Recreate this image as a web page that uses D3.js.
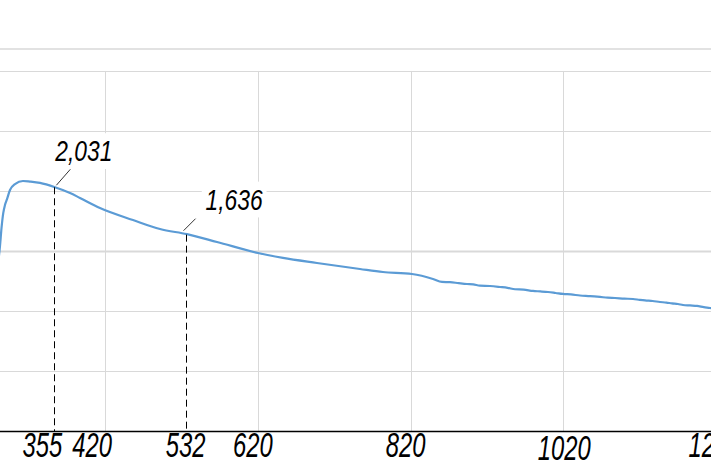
<!DOCTYPE html>
<html><head><meta charset="utf-8">
<script src="https://cdn.jsdelivr.net/npm/d3@7"></script>
<style>
html,body{margin:0;padding:0;background:#fff;}
svg{display:block;}
.lbl{font-family:"Liberation Sans",Arial,sans-serif;font-style:italic;fill:#000;}
</style></head>
<body><svg id="c" width="711" height="474"></svg>
<script>
// ---- data ----
const xValues = [280.0,282.5,284.5,286.8,289.0,291.3,295.6,302.1,312.6,321.8,334.9,354.5,374.2,387.2,413.4,456.6,492.0,527.3,566.6,620.3,653.0,697.5,753.8,783.9,821.9,849.4,861.2,871.7,883.0,893.9,902.0,910.9,924.0,937.2,947.0,956.8,968.0,980.4,990.0,1000.0,1010.0,1019.6,1030.0,1041.9,1055.0,1068.1,1078.0,1087.7,1100.0,1111.3,1120.0,1127.0,1137.0,1146.6,1155.0,1162.3,1170.0,1176.8,1186.0,1195.1,1204.0,1212.1,1216.0];
const yValues = [1.400,1.542,1.692,1.817,1.883,1.925,2.008,2.058,2.083,2.078,2.067,2.031,1.983,1.942,1.858,1.758,1.683,1.640,1.575,1.483,1.442,1.400,1.350,1.325,1.308,1.267,1.242,1.240,1.232,1.225,1.222,1.211,1.208,1.200,1.193,1.181,1.178,1.167,1.163,1.158,1.150,1.142,1.138,1.129,1.124,1.117,1.111,1.108,1.103,1.100,1.093,1.088,1.083,1.075,1.070,1.063,1.058,1.050,1.046,1.042,1.032,1.025,1.021];
const xGridValues = [420, 620, 820, 1020, 1220];
const yGridValues = [0.5, 1.0, 1.5, 2.0, 2.5, 3.0];
const xTickLabels = [355, 420, 532, 620, 820, 1020, 1220];
const markerX = [355, 532];
const markerLabels = ["2,031", "1,636"];
const markerY = [2.031, 1.636];

// ---- layout ----
const W = 711, H = 474;
const x = d3.scaleLinear().domain([282.5, 1213.4]).range([0, W]);
const y = d3.scaleLinear().domain([0, 3.183]).range([431, 49]);
const svg = d3.select("#c");

// grid
svg.append("line").attr("x1",0).attr("x2",W).attr("y1",y(3.183)).attr("y2",y(3.183))
  .attr("stroke","#d9d9d9").attr("stroke-width",1.5);
svg.selectAll("line.hg").data(yGridValues).enter().append("line").attr("class","hg")
  .attr("x1",0).attr("x2",W)
  .attr("y1",d=>Math.round(y(d))+0.5).attr("y2",d=>Math.round(y(d))+0.5)
  .attr("stroke","#d9d9d9").attr("stroke-width",d=>d===1.5?2:1);
svg.selectAll("line.vg").data(xGridValues).enter().append("line").attr("class","vg")
  .attr("x1",d=>Math.round(x(d))+0.5).attr("x2",d=>Math.round(x(d))+0.5)
  .attr("y1",y(3.0)).attr("y2",y(0))
  .attr("stroke","#d9d9d9").attr("stroke-width",1);

// axis line
svg.append("line").attr("x1",0).attr("x2",W).attr("y1",431.5).attr("y2",431.5)
  .attr("stroke","#000").attr("stroke-width",1.5);

// tick labels (condensed italic)
const nudge = {355:-13, 420:-13, 1020:1, 1220:-1};
const lowered = {1020:3};
svg.selectAll("g.tl").data(xTickLabels).enter().append("g").attr("class","tl")
  .attr("transform",d=>`translate(${x(d)+(nudge[d]!==undefined?nudge[d]:-5)},${457+(lowered[d]||0)}) scale(0.68,1)`)
  .append("text").attr("class","lbl")
  .attr("text-anchor","middle").attr("font-size",35)
  .text(d=>d);

// curve
const pts = xValues.map((v,i)=>[v,yValues[i]]);
svg.append("defs").append("clipPath").attr("id","clip").append("rect")
  .attr("x",0).attr("y",0).attr("width",W).attr("height",431);
svg.append("path").datum(pts).attr("clip-path","url(#clip)")
  .attr("fill","none").attr("stroke","#5b9bd5").attr("stroke-width",2.2)
  .attr("stroke-linejoin","round")
  .attr("d", d3.line().x(d=>x(d[0])).y(d=>y(d[1])).curve(d3.curveMonotoneX));

// markers
const markerLayout = [
  {px:-1, lead:[[2,-2],[16,-18]], tx:1, ty:-26},
  {px:-5, lead:[[-2,-4],[10,-16]], tx:20, ty:-25}
];
markerX.forEach((mx,i)=>{
  const L = markerLayout[i];
  const cx = x(mx)+L.px, cy = y(markerY[i]);
  svg.append("line").attr("x1",Math.round(cx)+0.5).attr("x2",Math.round(cx)+0.5)
    .attr("y1",cy).attr("y2",431)
    .attr("stroke","#000").attr("stroke-width",1).attr("stroke-dasharray","7,4");
  svg.append("line").attr("x1",cx+L.lead[0][0]).attr("y1",cy+L.lead[0][1])
    .attr("x2",cx+L.lead[1][0]).attr("y2",cy+L.lead[1][1])
    .attr("stroke","#000").attr("stroke-width",0.8);
  const g = svg.append("g").attr("transform",`translate(${cx+L.tx},${cy+L.ty}) scale(0.76,1)`);
  const bg = g.append("rect").attr("fill","#fff");
  const t = g.append("text").attr("class","lbl").attr("font-size",30)
    .attr("x",0).attr("y",0).text(markerLabels[i]);
  const bb = t.node().getBBox();
  bg.attr("x",bb.x-5).attr("y",bb.y-1).attr("width",bb.width+10).attr("height",bb.height+2);
});
</script></body></html>
